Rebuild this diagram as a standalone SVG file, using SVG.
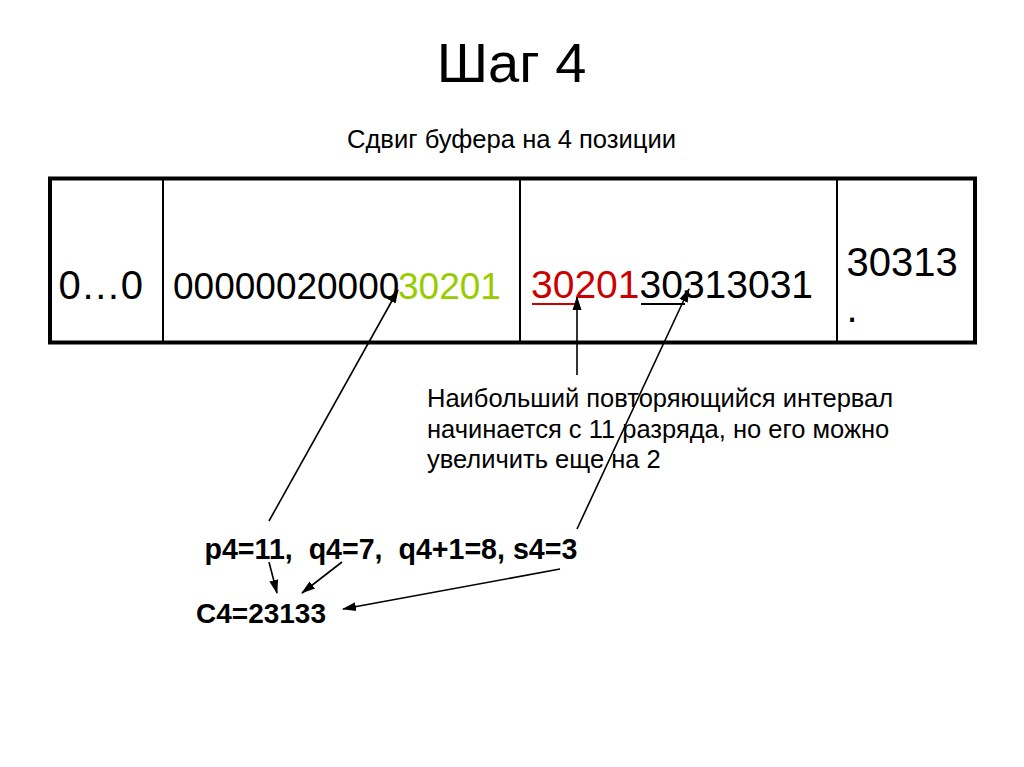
<svg xmlns="http://www.w3.org/2000/svg" width="1024" height="767" viewBox="0 0 1024 767">
<style>
text{font-family:"Liberation Sans",Arial,sans-serif;fill:#000}
.cell{font-size:40px}
.b{font-weight:bold;font-size:28px;white-space:pre}
.p{font-size:25.5px}
.ln{stroke:#000;stroke-width:1.6;fill:none;marker-end:url(#ah)}
</style>
<defs>
<marker id="ah" markerUnits="userSpaceOnUse" markerWidth="14" markerHeight="10" viewBox="0 0 14 10" refX="13" refY="5" orient="auto">
<path d="M0,0.5 L14,5 L0,9.5 Z" fill="#000"/>
</marker>
</defs>
<rect width="1024" height="767" fill="#fff"/>
<g id="title">
<text x="511.5" y="82" font-size="56" text-anchor="middle">Шаг 4</text>
<text x="511.5" y="148" font-size="25.6" text-anchor="middle">Сдвиг буфера на 4 позиции</text>
</g>
<g id="table">
<rect x="50" y="178.5" width="925" height="164" fill="none" stroke="#000" stroke-width="4"/>
<line x1="163" y1="178" x2="163" y2="343" stroke="#000" stroke-width="2"/>
<line x1="520" y1="178" x2="520" y2="343" stroke="#000" stroke-width="2"/>
<line x1="837" y1="178" x2="837" y2="343" stroke="#000" stroke-width="2"/>
</g>
<g id="cell1"><text class="cell" x="58.5" y="299">0…0</text></g>
<g id="cell2">
<text x="173" y="299" font-size="37">00000020000</text>
<text x="398" y="299" font-size="37" style="fill:#99CC00">30201</text>
</g>
<g id="cell3">
<text x="531" y="298" font-size="39" style="fill:#CC0000">30201</text>
<text x="639.5" y="298" font-size="39">30313031</text>
<line x1="532" y1="304" x2="575" y2="304" stroke="#CC0000" stroke-width="2"/>
<line x1="641" y1="304" x2="685" y2="304" stroke="#000" stroke-width="2"/>
</g>
<g id="cell4">
<text class="cell" x="846.5" y="276">30313</text>
<text class="cell" x="846.5" y="322">.</text>
</g>
<g id="note">
<text class="p" x="427" y="407">Наибольший повторяющийся интервал</text>
<text class="p" x="427" y="438">начинается с 11 разряда, но его можно</text>
<text class="p" x="427" y="468">увеличить еще на 2</text>
</g>
<g id="params"><text class="b" x="204.5" y="559" font-size="28.6" style="font-size:28.6px" xml:space="preserve">p4=11,  q4=7,  q4+1=8, s4=3</text></g>
<g id="result"><text class="b" x="196" y="623">C4=23133</text></g>
<g id="connectors">
<line class="ln" x1="269" y1="521" x2="398" y2="290"/>
<line class="ln" x1="577" y1="375" x2="577" y2="297"/>
<line class="ln" x1="577" y1="529" x2="689" y2="289"/>
<line class="ln" x1="269" y1="562" x2="277" y2="593"/>
<line class="ln" x1="342" y1="562" x2="302" y2="593"/>
<line class="ln" x1="560" y1="569" x2="343" y2="609"/>
</g>
</svg>
